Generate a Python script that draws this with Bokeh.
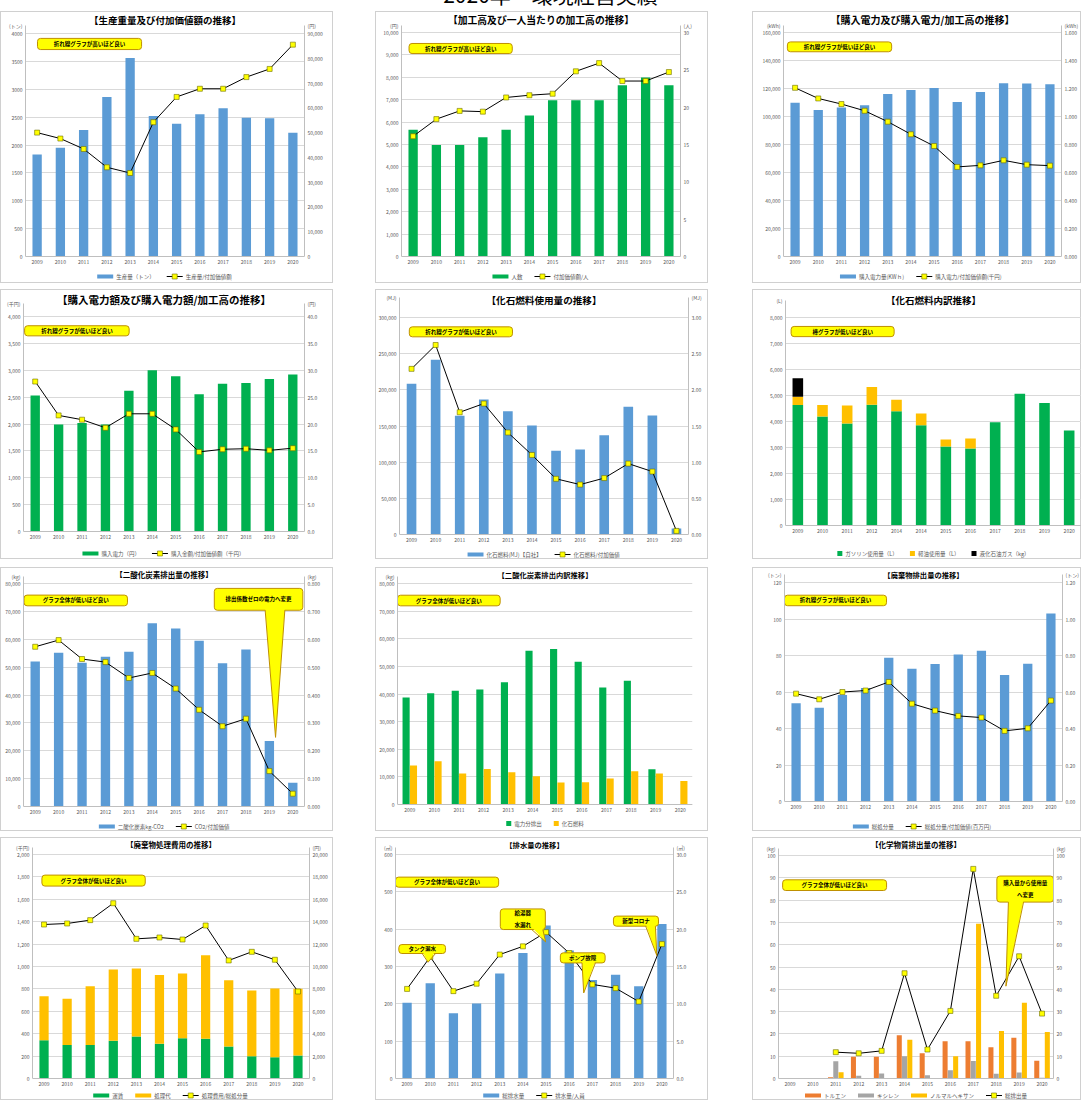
from bokeh.plotting import figure
from bokeh.models import (Range1d, LinearAxis, FixedTicker, Div, Spacer, NumeralTickFormatter,
                          ColumnDataSource)
from bokeh.layouts import column, row
from bokeh.embed import file_html
from bokeh.resources import INLINE
from bokeh.core.properties import value

FONT = "Noto Sans CJK JP"
BLUE = "#5B9BD5"; GREEN = "#00B050"; GOLD = "#FFC000"; ORANGE = "#ED7D31"; GRAY = "#A5A5A5"
TXT = "#595959"; GRID = "#D9D9D9"; AXIS = "#BFBFBF"
NOTE_FILL = "#FFFF00"; NOTE_LINE = "#BF9000"
NAN = float("nan")

# ---------------- data ----------------
YEARS = ["2009", "2010", "2011", "2012", "2013", "2014", "2015", "2016", "2017", "2018", "2019", "2020"]
YEARS_FUEL = ["2009", "2010", "2011", "2012", "2014", "2014", "2015", "2016", "2017", "2018", "2019", "2020"]

prod_t = [1830, 1950, 2270, 2860, 3560, 2520, 2380, 2550, 2660, 2490, 2480, 2220]
prod_per_va = [50000, 47600, 43400, 36000, 33700, 54200, 64400, 67700, 67700, 72400, 75700, 85500]
workers = [5660, 4980, 4980, 5320, 5660, 6300, 6970, 6970, 6970, 7640, 7990, 7640]
va_per_person = [16.1, 18.4, 19.5, 19.4, 21.3, 21.6, 21.8, 24.8, 25.9, 23.5, 23.5, 24.7]
power_kwh = [109800, 104600, 106500, 108000, 116000, 119000, 120300, 110300, 117500, 123700, 123600, 123000]
power_per_va = [1.205, 1.129, 1.089, 1.041, 0.963, 0.873, 0.789, 0.640, 0.651, 0.687, 0.656, 0.649]
power_cost = [2530, 1990, 2020, 1990, 2620, 3000, 2890, 2555, 2750, 2765, 2835, 2920]
cost_per_va = [27.9, 21.6, 20.8, 19.3, 21.9, 21.9, 19.0, 14.8, 15.3, 15.4, 15.1, 15.5]
fossil_mj = [208300, 241500, 164000, 186600, 170500, 150700, 115700, 117500, 137300, 176500, 164500, 8300]
fossil_per_va = [2.29, 2.62, 1.69, 1.81, 1.41, 1.10, 0.77, 0.69, 0.78, 0.98, 0.87, 0.05]
gasoline = [4630, 4193, 3923, 4643, 4399, 3859, 3035, 2958, 3974, 5068, 4707, 3653]
diesel = [322, 437, 694, 682, 437, 450, 270, 386, 0, 0, 0, 0]
lpg = [708, 0, 0, 0, 0, 0, 0, 0, 0, 0, 0, 0]
co2 = [52000, 55150, 51560, 53700, 55500, 65700, 63900, 59500, 51400, 56350, 23500, 8500]
co2_per_va = [0.573, 0.597, 0.529, 0.518, 0.461, 0.479, 0.423, 0.347, 0.288, 0.315, 0.127, 0.046]
co2_power = [38750, 40300, 41150, 41640, 44280, 55700, 56300, 51700, 42350, 44760, 12750, 0]
co2_fossil = [14080, 15640, 11190, 12880, 11670, 10230, 7940, 8060, 9390, 12030, 11190, 8540]
waste_t = [53.8, 51.4, 58.4, 62.2, 78.8, 72.8, 75.3, 80.6, 82.6, 69.3, 75.5, 103.0]
waste_per_va = [0.591, 0.560, 0.600, 0.608, 0.655, 0.536, 0.498, 0.469, 0.460, 0.387, 0.401, 0.553]
freight = [342, 300, 300, 336, 375, 310, 360, 354, 286, 199, 190, 205]
disposal = [393, 411, 524, 637, 607, 613, 578, 747, 592, 587, 614, 596]
cost_per_t = [13750, 13840, 14140, 15650, 12470, 12590, 12410, 13660, 10540, 11310, 10600, 7770]
drain = [203, 255, 175, 201, 281, 336, 410, 343, 264, 278, 247, 414]
drain_per_person = [12.0, 16.3, 11.7, 12.7, 16.6, 17.7, 19.6, 16.8, 12.6, 12.1, 10.3, 18.0]
toluene = [0, 0, 0.6, 9.8, 9.8, 19.4, 11.3, 16.7, 16.7, 14.0, 18.3, 8.0]
xylene = [0, 0, 7.7, 1.2, 2.2, 10.0, 1.5, 3.7, 7.9, 2.1, 2.7, 0.3]
hexane = [0, 0, 2.8, 0, 0, 17.4, 0, 10.0, 69.4, 21.3, 34.0, 20.9]
chem_total = [NAN, NAN, 11.8, 11.3, 12.4, 47.2, 13.0, 30.3, 94.0, 37.1, 54.8, 29.1]

IDX = list(range(len(YEARS)))
BORDER_CSS = ":host { box-shadow: inset 0 0 0 1px #D0D0D0; }"


def text_w(s, fs):
    w = 0.0
    for ch in s:
        o = ord(ch)
        w += fs if o >= 0x2E80 else fs * 0.56
    return w


def style_axis(ax, fmt):
    ax.formatter = NumeralTickFormatter(format=fmt)
    ax.major_label_text_font = FONT
    ax.major_label_text_font_size = "5px"
    ax.major_label_text_color = TXT
    ax.axis_line_color = AXIS
    ax.major_tick_line_color = None
    ax.minor_tick_line_color = None
    ax.major_tick_out = 0
    ax.major_tick_in = 0
    ax.major_label_standoff = 3


class Panel:
    def __init__(self, w, h, L, R, T, B, ymax, ystep, yfmt, unit_l, unit_up,
                 rmax=None, rstep=None, rfmt=None, unit_r=None, xlabels=YEARS):
        ph = h - T - B
        self.fw = w - L - R
        self.ph = ph
        self.ymax = ymax
        p = figure(width=w, height=h, x_range=Range1d(-0.5, 11.5),
                   y_range=Range1d(-B * ymax / ph, ymax + T * ymax / ph),
                   output_backend="svg", toolbar_location=None, tools="",
                   min_border_left=L, min_border_right=R, min_border_top=0, min_border_bottom=0)
        p.border_fill_color = None
        p.background_fill_color = None
        p.outline_line_color = None
        p.stylesheets = [BORDER_CSS]
        p.xgrid.grid_line_color = None
        n = int(round(ymax / ystep))
        yt = [ystep * i for i in range(n + 1)]
        p.ygrid.ticker = FixedTicker(ticks=yt)
        p.ygrid.grid_line_color = GRID
        yu = ymax * (1 + unit_up / ph)
        yax = p.yaxis[0]
        yax.ticker = FixedTicker(ticks=yt + [yu])
        yax.bounds = (0, yu)
        style_axis(yax, yfmt)
        yax.major_label_overrides = {yu: unit_l}
        xax = p.xaxis[0]
        xax.ticker = FixedTicker(ticks=IDX)
        xax.major_label_overrides = {i: s for i, s in enumerate(xlabels)}
        style_axis(xax, "0")
        xax.fixed_location = 0
        if rmax is not None:
            p.extra_y_ranges = {"r": Range1d(-B * rmax / ph, rmax + T * rmax / ph)}
            n2 = int(round(rmax / rstep))
            rt = [rstep * i for i in range(n2 + 1)]
            ru = rmax * (1 + unit_up / ph)
            ax = LinearAxis(y_range_name="r", ticker=FixedTicker(ticks=rt + [ru]), bounds=(0, ru))
            style_axis(ax, rfmt)
            ax.major_label_overrides = {ru: unit_r}
            p.add_layout(ax, "right")
            self.rmax = rmax
        self.p = p

    def fx(self, f):
        return -0.5 + 12.0 * f

    def fy(self, f):
        return self.ymax * (1.0 - f)

    def px_x(self, px):
        return -0.5 + 12.0 * px / self.fw

    def px_y(self, px):
        return px * self.ymax / self.ph

    def title(self, text, size, up):
        self.p.text(x=[5.5], y=[self.ymax + self.px_y(up)], text=[text],
                    text_font=value(FONT), text_font_size=value(size), text_font_style="bold",
                    text_align="center", text_baseline="middle", text_color="black")

    def note(self, x0, x1, y0, y1, text, size="5.5px"):
        p = self.p
        p.quad(left=[self.fx(x0)], right=[self.fx(x1)], top=[self.fy(y0)], bottom=[self.fy(y1)],
               fill_color=NOTE_FILL, line_color=NOTE_LINE, line_width=1, border_radius=3)
        p.text(x=[self.fx((x0 + x1) / 2)], y=[self.fy((y0 + y1) / 2)], text=[text],
               text_font=value(FONT), text_font_size=value(size), text_font_style="bold",
               text_align="center", text_baseline="middle", text_color="black",
               text_line_height=1.5)

    def callout(self, box, base, tip, text, size="5.5px"):
        x0, x1, y0, y1 = box
        bx0, bx1 = base
        tx, ty = tip
        self.note(x0, x1, y0, y1, text, size)
        p = self.p
        yb = y1 - 0.01
        p.patch(x=[self.fx(bx0), self.fx(bx1), self.fx(tx)], y=[self.fy(yb), self.fy(yb), self.fy(ty)],
                fill_color=NOTE_FILL, line_color=None)
        p.line(x=[self.fx(bx0), self.fx(tx)], y=[self.fy(y1), self.fy(ty)], line_color=NOTE_LINE, line_width=1)
        p.line(x=[self.fx(bx1), self.fx(tx)], y=[self.fy(y1), self.fy(ty)], line_color=NOTE_LINE, line_width=1)

    def bars(self, vals, color, width=0.4, offset=0.0):
        return self.p.vbar(x=[i + offset for i in IDX], top=vals, width=width,
                           fill_color=color, line_color=None)

    def curve(self, vals):
        self.p.line(x=IDX, y=vals, line_color="black", line_width=1, y_range_name="r")
        self.p.scatter(x=IDX, y=vals, marker="square", size=5, fill_color="#FFFF00",
                       line_color="#6b6b00", line_width=0.6, y_range_name="r")

    def legend(self, items, below, spacing=12, fs=5.5):
        p = self.p
        gw = {"bar": 16, "line": 16, "square": 5}
        widths = [gw[k] + 3 + text_w(t, fs) for t, k, c in items]
        total = sum(widths) + spacing * (len(items) - 1)
        xp = self.fw / 2 - total / 2
        y = -self.px_y(below)
        for (t, k, c), wd in zip(items, widths):
            x0 = self.px_x(xp)
            x1 = self.px_x(xp + gw[k])
            if k == "line":
                p.line(x=[x0, x1], y=[y, y], line_color="black", line_width=1)
                p.scatter(x=[(x0 + x1) / 2], y=[y], marker="square", size=5, fill_color="#FFFF00",
                          line_color="#6b6b00", line_width=0.6)
            else:
                hh = self.px_y(2 if k == "bar" else 2.5)
                p.quad(left=[x0], right=[x1], bottom=[y - hh], top=[y + hh], fill_color=c, line_color=None)
            p.text(x=[self.px_x(xp + gw[k] + 3)], y=[y], text=[t],
                   text_font=value(FONT), text_font_size=value("%gpx" % fs), text_color=TXT,
                   text_align="left", text_baseline="middle")
            xp += wd + spacing


# ---------------- row 1 ----------------
c1 = Panel(333, 272, 25, 29, 22, 27, 4000, 500, "0", "(トン)", 8, 90000, 10000, "0,0", "(円)")
c1.bars(prod_t, BLUE)
c1.curve(prod_per_va)
c1.title("【生産重量及び付加価値額の推移】", "9.5px", 14)
c1.note(0.043, 0.416, 0.022, 0.072, "折れ線グラフが高いほど良い")
c1.legend([("生産量（トン）", "bar", BLUE), ("生産量/付加価値額", "line", None)], 20)

c2 = Panel(333, 272, 26, 28, 21, 27, 10000, 1000, "0,0", "(円)", 7, 30, 5, "0", "(人)")
c2.bars(workers, GREEN)
c2.curve(va_per_person)
c2.title("【加工高及び一人当たりの加工高の推移】", "9.8px", 13)
c2.note(0.027, 0.397, 0.049, 0.094, "折れ線グラフが高いほど良い")
c2.legend([("人数", "bar", GREEN), ("付加価値額/人", "line", None)], 20)

c3 = Panel(329, 272, 31, 20, 21, 27, 160000, 20000, "0,0", "(kWh)", 7, 1.6, 0.2, "0.000", "(kWh)")
c3.bars(power_kwh, BLUE)
c3.curve(power_per_va)
c3.title("【購入電力及び購入電力/加工高の推移】", "10px", 13)
c3.note(0.014, 0.389, 0.042, 0.086, "折れ線グラフが低いほど良い")
c3.legend([("購入電力量(KWｈ)", "bar", BLUE), ("購入電力/付加価値額(千円)", "line", None)], 20)

# ---------------- row 2 ----------------
c4 = Panel(333, 270, 23, 29, 27, 28, 4000, 500, "0,0", "(千円)", 13, 40, 5, "0.0", "(円)")
c4.bars(power_cost, GREEN)
c4.curve(cost_per_va)
c4.title("【購入電力額及び購入電力額/加工高の推移】", "10.5px", 17)
c4.note(0.004, 0.376, 0.043, 0.09, "折れ線グラフが低いほど良い")
c4.legend([("購入電力（円）", "bar", GREEN), ("購入金額/付加価値額（千円）", "line", None)], 22)

c5 = Panel(333, 270, 23, 20, 28, 25, 300000, 50000, "0,0", "(MJ)", 20, 3, 0.5, "0.00", "(MJ)")
c5.bars(fossil_mj, BLUE)
c5.curve(fossil_per_va)
c5.title("【化石燃料使用量の推移】", "9.6px", 18)
c5.note(0.034, 0.391, 0.043, 0.089, "折れ線グラフが低いほど良い")
c5.legend([("化石燃料(MJ)【自社】", "bar", BLUE), ("化石燃料/付加価値", "line", None)], 20)

c6 = Panel(329, 270, 33, 0, 28, 34, 8000, 1000, "0,0", "(L)", 17, xlabels=YEARS_FUEL)
src6 = ColumnDataSource(dict(x=IDX, gasoline=gasoline, diesel=diesel, lpg=lpg))
c6.p.vbar_stack(["gasoline", "diesel", "lpg"], x="x", width=0.43, source=src6,
                fill_color=[GREEN, GOLD, "black"], line_color=None)
c6.title("【化石燃料内訳推移】", "9.5px", 18)
c6.note(0.019, 0.367, 0.043, 0.092, "棒グラフが低いほど良い")
c6.legend([("ガソリン使用量（L）", "square", GREEN), ("軽油使用量（L）", "square", GOLD),
           ("液化石油ガス（kg）", "square", "black")], 28)

# ---------------- row 3 ----------------
c7 = Panel(333, 264, 23, 29, 16, 25, 80000, 10000, "0,0", "(kg)", 7, 0.8, 0.1, "0.000", "(kg)")
c7.bars(co2, BLUE)
c7.curve(co2_per_va)
c7.title("【二酸化炭素排出量の推移】", "7.5px", 9)
c7.note(0.002, 0.370, 0.052, 0.1, "グラフ全体が低いほど良い")
c7.callout((0.679, 0.994, 0.022, 0.120), (0.86, 0.93), (0.897, 0.69), "排出係数ゼロの電力へ変更")
c7.legend([("二酸化炭素kg-CO2", "bar", BLUE), ("CO2/付加価値", "line", None)], 20)

c8 = Panel(333, 264, 22, 16, 16, 27, 80000, 10000, "0,0", "(kg)", 7)
c8.bars(co2_power, GREEN, width=0.29, offset=-0.15)
c8.bars(co2_fossil, GOLD, width=0.29, offset=0.15)
c8.title("【二酸化炭素排出内訳推移】", "7.3px", 9)
c8.note(0.0, 0.348, 0.053, 0.101, "グラフ全体が低いほど良い")
c8.legend([("電力分排出", "square", GREEN), ("化石燃料", "square", GOLD)], 19)

c9 = Panel(329, 264, 32, 18, 15, 30, 120, 20, "0", "(トン)", 8, 1.2, 0.2, "0.00", "(トン)")
c9.bars(waste_t, BLUE)
c9.curve(waste_per_va)
c9.title("【廃棄物排出量の推移】", "7.3px", 8)
c9.note(0.0, 0.367, 0.058, 0.106, "折れ線グラフが低いほど良い")
c9.legend([("総処分量", "bar", BLUE), ("総処分量/付加価値(百万円)", "line", None)], 25)

# ---------------- row 4 ----------------
c10 = Panel(333, 263, 32, 24, 17, 22, 2000, 200, "0,0", "(千円)", 7, 20000, 2000, "0,0", "(円)")
src10 = ColumnDataSource(dict(x=IDX, freight=freight, disposal=disposal))
c10.p.vbar_stack(["freight", "disposal"], x="x", width=0.4, source=src10,
                 fill_color=[GREEN, GOLD], line_color=None)
c10.curve(cost_per_t)
c10.title("【廃棄物処理費用の推移】", "7.5px", 10)
c10.note(0.034, 0.407, 0.092, 0.141, "グラフ全体が低いほど良い")
c10.legend([("運賃", "bar", GREEN), ("処理代", "bar", GOLD), ("処理費用/総処分量", "line", None)], 17)

c11 = Panel(333, 263, 20, 35, 17, 22, 600, 100, "0", "(㎥)", 7, 30, 5, "0.0", "(㎥)")
c11.bars(drain, BLUE)
c11.curve(drain_per_person)
c11.title("【排水量の推移】", "7.3px", 10)
c11.note(0.0, 0.371, 0.101, 0.146, "グラフ全体が低いほど良い")
c11.callout((0.012, 0.180, 0.402, 0.442), (0.096, 0.144), (0.117, 0.481), "タンク漏水")
c11.callout((0.377, 0.539, 0.243, 0.335), (0.49, 0.53), (0.54, 0.39), "給湯器\n水漏れ")
c11.callout((0.593, 0.754, 0.439, 0.484), (0.671, 0.719), (0.677, 0.618), "ポンプ故障")
c11.callout((0.784, 0.946, 0.275, 0.320), (0.90, 0.935), (0.94, 0.451), "新型コロナ")
c11.legend([("総排水量", "bar", BLUE), ("排水量/人員", "line", None)], 17)

c12 = Panel(329, 263, 26, 28, 18, 22, 100, 10, "0", "(kg)", 7, 100, 10, "0", "(kg)")
c12.bars(toluene, ORANGE, width=0.22, offset=-0.23)
c12.bars(xylene, GRAY, width=0.22, offset=0.0)
c12.bars(hexane, GOLD, width=0.22, offset=0.23)
c12.curve(chem_total)
c12.title("【化学物質排出量の推移】", "7.5px", 11)
c12.note(0.015, 0.393, 0.109, 0.157, "グラフ全体が低いほど良い")
c12.callout((0.794, 1.0, 0.092, 0.209), (0.836, 0.891), (0.827, 0.586), "購入量から使用量\nへ変更")
c12.legend([("トルエン", "bar", ORANGE), ("キシレン", "bar", GRAY), ("ノルマルヘキサン", "bar", GOLD),
            ("総排出量", "line", None)], 17)

# ---------------- layout ----------------
header = Div(text=("<div style=\"position:relative;top:-21px;left:9px;width:1073px;text-align:center;"
                   "font-family:'Noto Sans CJK JP';font-size:21px;line-height:21px;color:#000;"
                   "white-space:nowrap;\">2020年　環境経営実績</div>"),
             width=1073, height=1, stylesheets=[":host { overflow: visible; }"])


def prow(a, b_, c, h):
    return row(a.p, Spacer(width=42, height=h), b_.p, Spacer(width=44, height=h), c.p)


layout = column(header,
                prow(c1, c2, c3, 272), Spacer(width=1073, height=6),
                prow(c4, c5, c6, 270), Spacer(width=1073, height=8),
                prow(c7, c8, c9, 264), Spacer(width=1073, height=6),
                prow(c10, c11, c12, 263))

open("out.html", "w").write(file_html(layout, INLINE, title="2020年 環境経営実績"))
